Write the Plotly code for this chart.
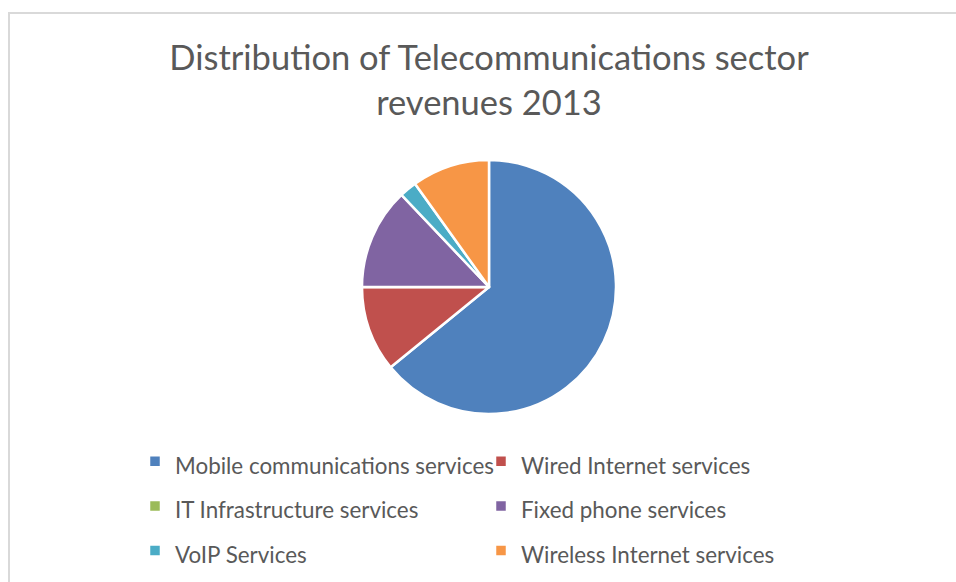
import plotly.graph_objects as go

# Revenue shares by service line, 2013 (percent of total)
services = [
    "Mobile communications services",
    "Wired Internet services",
    "IT Infrastructure services",
    "Fixed phone services",
    "VoIP Services",
    "Wireless Internet services",
]
shares = [64.1, 10.9, 0.0, 12.9, 2.2, 9.9]
slice_colors = ["#4F81BD", "#C0504D", "#9BBB59", "#8064A2", "#4BACC6", "#F79646"]

W, H = 956, 582
cx, cy, r = 489, 287, 127  # pie centre and radius in pixels

fig = go.Figure(
    go.Pie(
        labels=[f'<span style="font-size:22.4px">{s}</span>' for s in services],
        values=shares,
        sort=False,
        direction="clockwise",
        rotation=0,
        textinfo="none",
        hoverinfo="label+percent",
        marker=dict(colors=slice_colors, line=dict(color="white", width=2.5)),
        domain=dict(
            x=[(cx - r) / W, (cx + r) / W],
            y=[(H - cy - r) / H, (H - cy + r) / H],
        ),
    )
)

fig.update_layout(
    width=W,
    height=H,
    margin=dict(l=0, r=0, t=0, b=0),
    paper_bgcolor="white",
    plot_bgcolor="white",
    font=dict(family="Lato, Open Sans, sans-serif", color="#595959"),
    title=dict(
        text="Distribution of Telecommunications sector<br>revenues 2013",
        font=dict(size=34.5, color="#595959"),
        x=cx / W,
        xanchor="center",
        y=1 - 70 / H,
        yanchor="top",
    ),
    showlegend=True,
    legend=dict(
        orientation="h",
        entrywidth=301,
        entrywidthmode="pixels",
        x=135 / W,
        xanchor="left",
        y=1 - 434 / H,
        yanchor="top",
        font=dict(size=32, color="#595959"),
        bgcolor="rgba(0,0,0,0)",
    ),
    shapes=[
        # light frame around the chart area
        dict(
            type="rect", xref="paper", yref="paper",
            x0=9 / W, x1=1.02, y0=-0.02, y1=1 - 13 / H,
            line=dict(color="#D9D9D9", width=2),
            fillcolor="rgba(0,0,0,0)",
            layer="below",
        )
    ],
)

fig.write_html("out.html")
